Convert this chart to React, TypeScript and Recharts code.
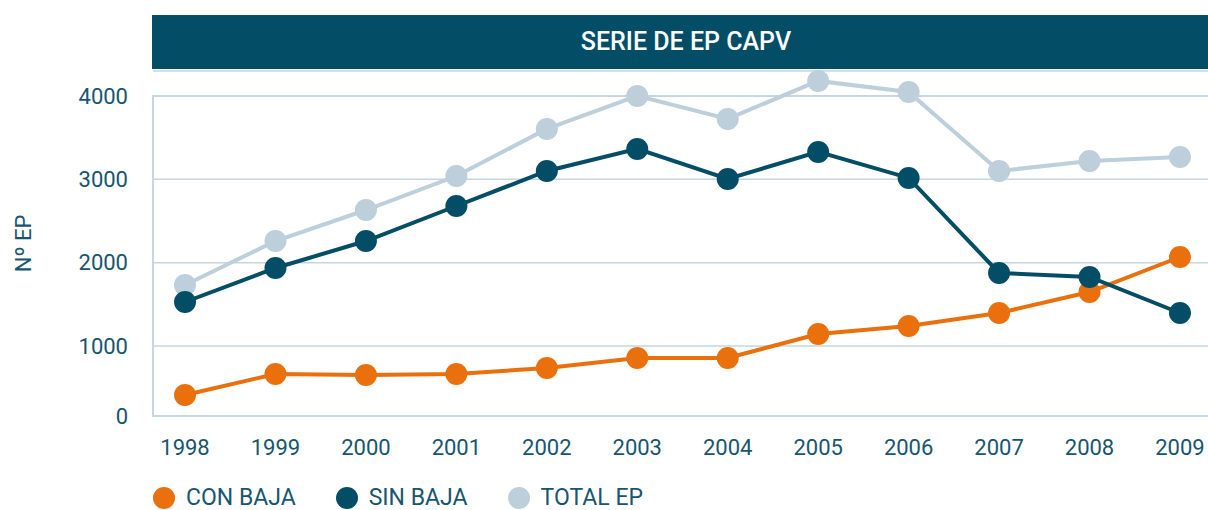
import React from "react";
import {
  LineChart,
  Line,
  XAxis,
  YAxis,
  CartesianGrid,
  ReferenceArea,
  Legend,
} from "recharts";

const years = [1998, 1999, 2000, 2001, 2002, 2003, 2004, 2005, 2006, 2007, 2008, 2009];
const conBaja = [412, 664, 652, 664, 736, 856, 856, 1144, 1240, 1396, 1648, 2068];
const sinBaja = [1528, 1936, 2260, 2680, 3100, 3365, 3005, 3329, 3017, 1876, 1828, 1396];
const totalEp = [1732, 2260, 2632, 3040, 3605, 4001, 3725, 4181, 4049, 3100, 3221, 3269];

// the axis floor sits a little above zero in the original, labelled "0"
const yTicks = [160, 1000, 2000, 3000, 4000];
const yTickLabels = ["0", "1000", "2000", "3000", "4000"];

const series = [
  { key: "conBaja", name: "CON BAJA", color: "#e9700d" },
  { key: "sinBaja", name: "SIN BAJA", color: "#034e66" },
  { key: "totalEp", name: "TOTAL EP", color: "#bccfdb" },
];
// painting order: light line at the back, dark on top
const drawOrder = ["totalEp", "conBaja", "sinBaja"];

const data = years.map((year, i) => ({
  year,
  conBaja: conBaja[i],
  sinBaja: sinBaja[i],
  totalEp: totalEp[i],
}));

const FONT = "Roboto, 'DejaVu Sans', sans-serif";
const TEXT = "#17566e";
const GRID = "#c6d6e0";

function LegendRow() {
  return (
    <div style={{ display: "flex", alignItems: "center", fontFamily: FONT }}>
      {series.map((s) => (
        <div
          key={s.key}
          style={{ display: "flex", alignItems: "center", marginRight: 40 }}
        >
          <span
            style={{
              width: 22,
              height: 22,
              borderRadius: "50%",
              background: s.color,
              display: "inline-block",
              marginRight: 11,
            }}
          />
          <span style={{ fontSize: 23, color: TEXT, lineHeight: "24px" }}>
            {s.name}
          </span>
        </div>
      ))}
    </div>
  );
}

function YLabel(props: any) {
  const { viewBox } = props;
  const cx = viewBox.x + 23;
  const cy = viewBox.y + viewBox.height / 2;
  return (
    <text
      x={cx}
      y={cy}
      transform={`rotate(-90 ${cx} ${cy})`}
      textAnchor="middle"
      dominantBaseline="central"
      fontFamily={FONT}
      fontSize={22}
      fill={TEXT}
    >
      Nº EP
    </text>
  );
}

export default function App() {
  return (
    <div
      style={{
        position: "fixed",
        left: 0,
        top: 0,
        width: 1208,
        height: 510,
        overflow: "hidden",
        background: "#fff",
      }}
    >
      <div
        style={{
          position: "absolute",
          left: 152,
          top: 15,
          width: 1056,
          height: 54,
          background: "#034e66",
          color: "#fff",
          fontFamily: FONT,
          fontWeight: 500,
          fontSize: 25,
          lineHeight: "54px",
          textAlign: "center",
          paddingLeft: 12,
          boxSizing: "border-box",
        }}
      >
        SERIE DE EP CAPV
      </div>
      <div style={{ position: "absolute", left: 0, top: 0 }}>
        <LineChart
          width={1210}
          height={510}
          data={data}
          margin={{ top: 71, right: 0, bottom: 64, left: 0 }}
        >
          <CartesianGrid
            horizontal
            vertical={false}
            stroke={GRID}
            strokeWidth={1.5}
          />
          <ReferenceArea
            y1={160}
            y2={4000}
            fill="none"
            stroke={GRID}
            strokeWidth={2}
          />
          <XAxis
            dataKey="year"
            type="number"
            domain={[1997.646, 2009.332]}
            ticks={years}
            allowDataOverflow
            axisLine={false}
            tickLine={false}
            tickMargin={17}
            tick={{ fill: TEXT, fontSize: 22, fontFamily: FONT }}
          />
          <YAxis
            width={153}
            domain={[160, 4300]}
            ticks={yTicks}
            tickFormatter={(v: number) => yTickLabels[yTicks.indexOf(v)] ?? String(v)}
            axisLine={false}
            tickLine={false}
            tickMargin={19}
            tick={{ fill: TEXT, fontSize: 22, fontFamily: FONT }}
            label={<YLabel />}
          />
          <Legend
            layout="horizontal"
            verticalAlign="middle"
            align="center"
            wrapperStyle={{ top: 486, left: 153, width: 700 }}
            content={() => <LegendRow />}
          />
          {drawOrder.map((k) => {
            const s = series.find((x) => x.key === k)!;
            return (
              <Line
                key={s.key}
                dataKey={s.key}
                name={s.name}
                stroke={s.color}
                strokeWidth={4}
                dot={{ r: 11, fill: s.color, stroke: s.color, strokeWidth: 0 }}
                activeDot={false}
                isAnimationActive={false}
              />
            );
          })}
        </LineChart>
      </div>
    </div>
  );
}
